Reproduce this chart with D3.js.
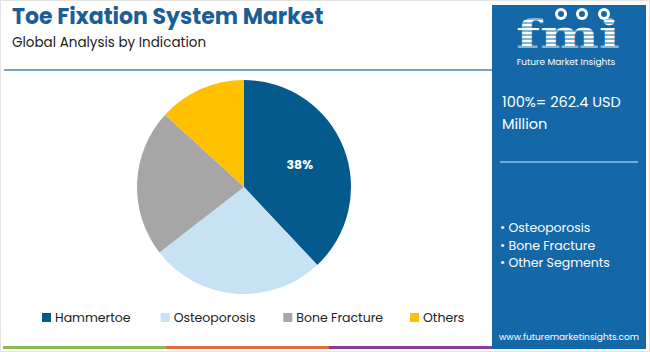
<!DOCTYPE html>
<html>
<head>
<meta charset="utf-8">
<script src="https://cdn.jsdelivr.net/npm/d3@7"></script>
<style>
  body { margin: 0; background: #fff; }
  svg { display: block; font-family: Poppins, "Open Sans", "Noto Sans", sans-serif; }
</style>
</head>
<body>
<svg id="chart" width="650" height="352"></svg>
<script>
// data
const categories = ['Hammertoe', 'Osteoporosis', 'Bone Fracture', 'Others']
const shares = [38, 26.5, 22.3, 13.2]
const colours = ['#045a8d', '#c6e2f3', '#a6a6a6', '#ffc000']
const shownLabels = ['38%', '', '', '']
const panelBullets = ['Osteoporosis', 'Bone Fracture', 'Other Segments']
const stripeColours = ['#8dbb4d', '#e06a3b', '#8e3d96']

const svg = d3.select('#chart')
const W = 650, H = 352

// frame
svg.append('rect').attr('x', 0.5).attr('y', 0.5).attr('width', W - 1).attr('height', H - 1)
  .attr('fill', '#fff').attr('stroke', '#e3e3e3')

// titles
svg.append('text').attr('x', 12).attr('y', 24)
  .attr('font-size', 22).attr('font-weight', 700).attr('fill', '#1b5e96')
  .text('Toe Fixation System Market')
svg.append('text').attr('x', 12).attr('y', 47)
  .attr('font-size', 13.5).attr('fill', '#222')
  .text('Global Analysis by Indication')
svg.append('line').attr('x1', 4).attr('x2', 492).attr('y1', 70).attr('y2', 70)
  .attr('stroke', '#4a86b8').attr('stroke-width', 1.5)

// pie
const pie = d3.pie().sort(null).value(d => d)
const arc = d3.arc().innerRadius(0).outerRadius(107)
const g = svg.append('g').attr('transform', 'translate(244,187)')
const arcs = pie(shares)
g.selectAll('path').data(arcs).join('path')
  .attr('d', arc)
  .attr('fill', (d, i) => colours[i])
const labelArc = d3.arc().innerRadius(60).outerRadius(60)
g.selectAll('text').data(arcs).join('text')
  .attr('transform', d => `translate(${labelArc.centroid(d)})`)
  .attr('text-anchor', 'middle').attr('dy', '0.35em')
  .attr('font-size', 12.5).attr('font-weight', 700).attr('fill', '#fff')
  .text((d, i) => shownLabels[i])

// legend
const legendX = d3.scalePoint().domain(categories).range([42, 410])
const legendOffsets = [0, -4, -4, 0]
const lg = svg.append('g').selectAll('g').data(categories).join('g')
  .attr('transform', (d, i) => `translate(${legendX(d) + legendOffsets[i]},318)`)
lg.append('rect').attr('x', 0).attr('y', -5).attr('width', 9).attr('height', 9)
  .attr('fill', (d, i) => colours[i])
lg.append('text').attr('x', 13).attr('y', 0).attr('dy', '0.35em')
  .attr('font-size', 12.5).attr('fill', '#222').text(d => d)

// bottom stripes
const stripeX = d3.scaleLinear().domain([0, 3]).range([3, 492])
svg.append('g').selectAll('rect').data(stripeColours).join('rect')
  .attr('x', (d, i) => stripeX(i)).attr('y', 346)
  .attr('width', (d, i) => stripeX(i + 1) - stripeX(i)).attr('height', 3)
  .attr('fill', d => d)

// right panel
const panel = svg.append('g')
panel.append('rect').attr('x', 492).attr('y', 5).attr('width', 154).attr('height', 344)
  .attr('fill', '#1468a8')

// logo
const logo = panel.append('g')
logo.append('text').attr('x', 516).attr('y', 48)
  .attr('font-family', '"DejaVu Serif", serif').attr('font-weight', 700)
  .attr('font-size', 40).attr('fill', '#fff')
  .attr('textLength', 104).attr('lengthAdjust', 'spacingAndGlyphs').text('fmi')
d3.range(19, 50, 4).forEach(y => {
  logo.append('line').attr('x1', 512).attr('x2', 624).attr('y1', y).attr('y2', y)
    .attr('stroke', '#1468a8').attr('stroke-width', 1.2)
})
;[[561, 14], [582, 14], [604, 14]].forEach(([cx, cy]) => {
  logo.append('circle').attr('cx', cx).attr('cy', cy).attr('r', 6).attr('fill', '#fff')
  logo.append('circle').attr('cx', cx).attr('cy', cy).attr('r', 3).attr('fill', '#1468a8')
})
logo.append('text').attr('x', 566).attr('y', 65).attr('text-anchor', 'middle')
  .attr('font-size', 9).attr('fill', '#fff').text('Future Market Insights')

panel.append('text').attr('x', 502).attr('y', 107).attr('font-size', 14.5).attr('fill', '#fff')
  .text('100%= 262.4 USD')
panel.append('text').attr('x', 502).attr('y', 129).attr('font-size', 14.5).attr('fill', '#fff')
  .text('Million')
panel.append('line').attr('x1', 500).attr('x2', 638).attr('y1', 162).attr('y2', 162)
  .attr('stroke', '#8ec0e6').attr('stroke-width', 1.5)

panel.selectAll('text.bullet').data(panelBullets).join('text')
  .attr('class', 'bullet')
  .attr('x', 500).attr('y', (d, i) => 232 + i * 17.5)
  .attr('font-size', 12.5).attr('fill', '#fff')
  .text(d => '\u2022 ' + d)

panel.append('text').attr('x', 569).attr('y', 340).attr('text-anchor', 'middle')
  .attr('font-size', 9).attr('fill', '#fff').text('www.futuremarketinsights.com')
</script>
</body>
</html>
